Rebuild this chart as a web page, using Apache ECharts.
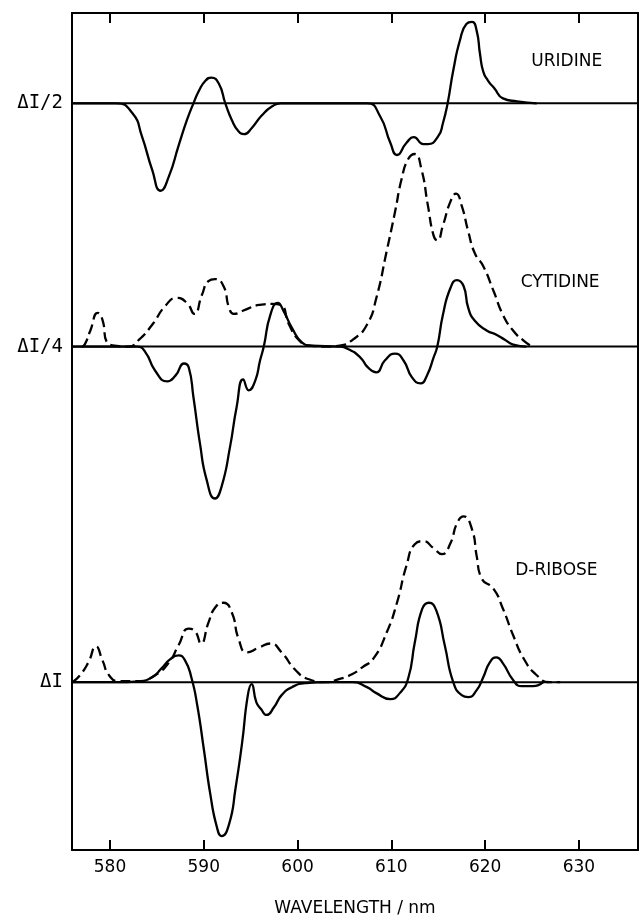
<!DOCTYPE html>
<html>
<head>
<meta charset="utf-8">
<script src="https://cdn.jsdelivr.net/npm/echarts@6/dist/echarts.min.js"></script>
<style>
  html, body { margin: 0; padding: 0; background: #fff; }
  #chart { width: 639px; height: 922px; }
</style>
</head>
<body>
<div id="chart"></div>
<script>
// wavelength (nm) vs. offset from each trace's own baseline (arbitrary units, ~1 unit = 1 px)
const uridineSolid = [
  [576, 0], [580.6, 0], [582.4, -10], [583.4, -33], [584.5, -67], [585.4, -88], [586.3, -73],
  [587.3, -43], [588.2, -17], [588.9, 0], [589.5, 13], [590.2, 23], [590.8, 26], [591.6, 20],
  [592.3, 0], [593.0, -17], [593.7, -28], [594.3, -31], [595.1, -25], [596.2, -12], [597.3, -3],
  [598.2, 0], [607.4, 0], [608.8, -13], [609.9, -40], [610.6, -52], [611.6, -40], [612.4, -34],
  [613.4, -41], [613.9, -41], [615.0, -33], [615.5, -20], [616.0, 0], [616.6, 33], [617.3, 63],
  [618.0, 80], [618.6, 82], [619.1, 73], [619.45, 50], [619.8, 32], [620.3, 23], [621.0, 15],
  [621.9, 5], [623.4, 2], [625.5, 0]
];

const cytidineSolid = [
  [576, 0], [582.9, 0], [583.8, -6], [584.8, -24], [586.1, -35], [587.0, -29], [587.9, -17],
  [588.4, -21], [588.9, -51], [589.6, -98], [590.3, -134], [591.2, -153], [591.9, -141],
  [592.8, -101], [593.5, -61], [594.2, -33], [594.8, -44], [595.5, -34], [596.0, -14], [596.4, 0],
  [597.1, 32], [597.9, 44], [598.5, 36], [599.4, 19], [600.5, 4], [601.5, 1], [604.4, 0],
  [605.3, -2], [606.7, -11], [607.5, -21], [608.4, -26], [609.3, -14], [610.4, -7], [611.3, -14],
  [612.2, -31], [613.1, -37], [613.8, -29], [614.5, -11], [614.9, 0], [615.5, 32], [616.3, 59],
  [617.0, 67], [617.7, 61], [618.2, 39], [618.9, 26], [620.2, 16], [621.2, 12], [622.1, 7],
  [623.0, 2], [624.4, 0]
];

const cytidineDashed = [
  [577.0, 0], [577.3, 2], [577.9, 16], [578.7, 34], [579.2, 27], [579.7, 4], [580.6, 1], [582.0, 0],
  [583.1, 7], [584.5, 22], [585.9, 41], [587.1, 49], [588.2, 44], [589.0, 33], [589.8, 52],
  [590.5, 66], [591.2, 68], [592.1, 61], [592.7, 39], [593.2, 33], [594.4, 37], [595.9, 42],
  [597.3, 43], [598.2, 42], [599.1, 22], [600.1, 7], [601.2, 1], [603.0, 0], [604.5, 1],
  [605.9, 7], [607.4, 22], [608.4, 49], [609.5, 96], [610.4, 136], [611.1, 169], [611.8, 189],
  [612.5, 194], [613.2, 179], [613.9, 142], [614.5, 112], [614.9, 107], [615.5, 122], [616.3, 146],
  [616.9, 154], [617.5, 142], [618.2, 116], [618.9, 94], [619.8, 81], [620.9, 56], [621.9, 32],
  [623.0, 16], [624.1, 6], [625.0, 0]
];

const riboseSolid = [
  [576, 0], [580.9, 0], [583.1, 1], [584.5, 5], [585.5, 14], [586.4, 23], [587.3, 27], [588.0, 22],
  [588.7, 4], [589.3, -23], [590.0, -67], [590.7, -113], [591.4, -146], [591.9, -155], [592.7, -143],
  [593.4, -106], [594.1, -60], [594.7, -13], [595.1, -2], [595.6, -20], [596.1, -27], [596.7, -33],
  [597.5, -25], [598.3, -13], [599.4, -5], [600.8, -1], [603.0, 0], [605.9, 0], [607.4, -5],
  [608.4, -11], [609.9, -17], [610.9, -11], [611.8, 4], [612.5, 40], [613.3, 74], [614.0, 80],
  [614.8, 72], [615.7, 37], [616.6, 0], [617.5, -13], [618.2, -15], [619.1, -8], [619.8, 5],
  [620.5, 20], [621.2, 25], [621.9, 19], [623.0, 2], [623.9, -4], [625.1, -4], [626.2, 0]
];

const riboseDashed = [
  [576, 0], [576.8, 7], [577.7, 20], [578.5, 36], [579.2, 22], [579.9, 7], [580.9, 1], [583.1, 1],
  [584.8, 7], [586.3, 20], [587.3, 37], [588.4, 54], [589.1, 51], [589.7, 39], [590.5, 60],
  [591.2, 75], [592.1, 80], [593.0, 70], [593.7, 44], [594.6, 30], [595.9, 35], [597.1, 39],
  [598.3, 30], [599.8, 12], [601.2, 3], [603.0, 0], [604.4, 3], [605.8, 8], [606.9, 15],
  [608.1, 24], [609.5, 50], [610.6, 80], [611.6, 117], [612.5, 139], [613.4, 142], [614.5, 135],
  [615.4, 129], [616.3, 140], [617.0, 160], [617.7, 167], [618.6, 154], [619.1, 127], [619.6, 105],
  [620.9, 94], [621.9, 74], [623.0, 47], [624.1, 24], [625.5, 7], [626.9, 0], [628.0, 0]
];

// baselines (y value) and their axis labels
const baselineLabels = ['ΔI/2', 'ΔI/4', 'ΔI'];
const baselineLevels = [752, 507, 169];

const xTicks = [580, 590, 600, 610, 620, 630];
const xRange = [575.95, 636.3];
const yRange = [0, 843];

// trace names and where they sit (wavelength, y)
const traceNames = ['URIDINE', 'CYTIDINE', 'D-RIBOSE'];
const traceNamePos = [[628.7, 794], [628.0, 571], [627.6, 281]];

const INK = '#000';

const shift = (arr, base) => arr.map(([x, v]) => [x, base + v]);

const curve = (name, data, base, dashed) => ({
  name,
  type: 'line',
  data: shift(data, base),
  showSymbol: false,
  symbol: 'none',
  smooth: 0.55,
  silent: true,
  lineStyle: { color: INK, width: 2.3, type: dashed ? [10, 5] : 'solid' },
  z: dashed ? 3 : 4
});

const baselineMark = (level) => ({
  type: 'line',
  data: [[xRange[0], level], [xRange[1], level]],
  showSymbol: false,
  symbol: 'none',
  silent: true,
  lineStyle: { color: INK, width: 2 },
  z: 2
});

const option = {
  backgroundColor: '#fff',
  animation: false,
  grid: { left: 72, right: 1, top: 13, bottom: 66 },
  xAxis: [
    {
      type: 'value',
      position: 'bottom',
      min: xRange[0],
      max: xRange[1],
      name: 'WAVELENGTH / nm',
      nameLocation: 'middle',
      nameGap: 50,
      nameTextStyle: { color: INK, fontFamily: 'DejaVu Sans', fontSize: 17 },
      axisLine: { show: true, onZero: false, lineStyle: { color: INK, width: 2 } },
      axisTick: { show: true, inside: true, length: 10, customValues: xTicks, lineStyle: { color: INK, width: 2 } },
      axisLabel: { show: true, customValues: xTicks, margin: 9, color: INK, fontFamily: 'DejaVu Sans', fontSize: 17 },
      splitLine: { show: false }
    },
    {
      type: 'value',
      position: 'top',
      min: xRange[0],
      max: xRange[1],
      axisLine: { show: true, onZero: false, lineStyle: { color: INK, width: 2 } },
      axisTick: { show: true, inside: true, length: 10, customValues: xTicks, lineStyle: { color: INK, width: 2 } },
      axisLabel: { show: false },
      splitLine: { show: false }
    }
  ],
  yAxis: [
    {
      type: 'value',
      position: 'left',
      min: yRange[0],
      max: yRange[1],
      axisLine: { show: true, onZero: false, lineStyle: { color: INK, width: 2 } },
      axisTick: { show: false },
      axisLabel: {
        show: true,
        customValues: baselineLevels,
        margin: 9,
        color: INK,
        fontFamily: 'DejaVu Sans Mono',
        fontSize: 19,
        formatter: (v) => baselineLabels[baselineLevels.indexOf(v)] || ''
      },
      splitLine: { show: false }
    },
    {
      type: 'value',
      position: 'right',
      min: yRange[0],
      max: yRange[1],
      axisLine: { show: true, onZero: false, lineStyle: { color: INK, width: 2 } },
      axisTick: { show: false },
      axisLabel: { show: false },
      splitLine: { show: false }
    }
  ],
  series: [
    ...baselineLevels.map(baselineMark),
    curve('Uridine', uridineSolid, baselineLevels[0], false),
    curve('Cytidine', cytidineSolid, baselineLevels[1], false),
    curve('Cytidine (dashed)', cytidineDashed, baselineLevels[1], true),
    curve('D-ribose', riboseSolid, baselineLevels[2], false),
    curve('D-ribose (dashed)', riboseDashed, baselineLevels[2], true),
    {
      type: 'scatter',
      data: traceNamePos.map((p, i) => [p[0], p[1], traceNames[i]]),
      symbolSize: 0,
      silent: true,
      itemStyle: { color: INK, opacity: 1 },
      label: {
        show: true,
        position: 'inside',
        formatter: (p) => p.value[2],
        color: INK,
        opacity: 1,
        textBorderWidth: 0,
        textBorderColor: 'transparent',
        fontFamily: 'DejaVu Sans',
        fontSize: 17
      },
      z: 5
    }
  ]
};

const chart = echarts.init(document.getElementById('chart'), null, { renderer: 'canvas' });
chart.setOption(option);
</script>
</body>
</html>
